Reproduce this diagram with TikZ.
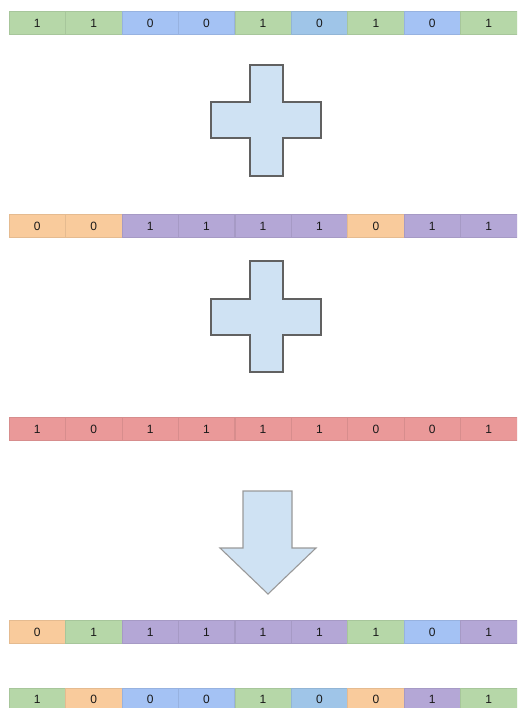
\documentclass[tikz,border=0pt]{standalone}
\usepackage{fontspec}
\setmainfont{Liberation Sans}
\usepackage{tikz}

\definecolor{cgreen}{HTML}{B6D7A8}
\definecolor{cblue}{HTML}{A4C2F4}
\definecolor{clight}{HTML}{9FC5E8}
\definecolor{corange}{HTML}{F9CB9C}
\definecolor{cpurple}{HTML}{B4A7D6}
\definecolor{cred}{HTML}{EA9999}
\definecolor{shapefill}{HTML}{CFE2F3}

\begin{document}
\begin{tikzpicture}[x=1pt,y=-1pt,
  cell/.style={fill=#1, draw=#1!92!black, line width=0.5pt,
    minimum width=56.44pt, minimum height=23pt, inner sep=0pt,
    font=\fontsize{12}{14}\selectfont, text=black!90},
  plusbox/.style={fill=shapefill, draw=black!62, line width=1.4pt},
  arrowbox/.style={fill=shapefill, draw=black!40, line width=1.1pt}]
\useasboundingbox (0,0) rectangle (517,708);
\clip (0,0) rectangle (517,708);

% first number
\node[cell=cgreen]  (a1) at (37.2,23) {1};
\node[cell=cgreen]  (a2) at (93.7,23) {1};
\node[cell=cblue]   (a3) at (150.1,23) {0};
\node[cell=cblue]   (a4) at (206.5,23) {0};
\node[cell=cgreen]  (a5) at (263.0,23) {1};
\node[cell=clight]  (a6) at (319.4,23) {0};
\node[cell=cgreen]  (a7) at (375.9,23) {1};
\node[cell=cblue]   (a8) at (432.3,23) {0};
\node[cell=cgreen]  (a9) at (488.8,23) {1};

\draw[plusbox] (250,65) -- (283,65) -- (283,102) -- (321,102) -- (321,138)
  -- (283,138) -- (283,176) -- (250,176) -- (250,138) -- (211,138)
  -- (211,102) -- (250,102) -- cycle;

% second number
\node[cell=corange] (b1) at (37.2,226) {0};
\node[cell=corange] (b2) at (93.7,226) {0};
\node[cell=cpurple] (b3) at (150.1,226) {1};
\node[cell=cpurple] (b4) at (206.5,226) {1};
\node[cell=cpurple] (b5) at (263.0,226) {1};
\node[cell=cpurple] (b6) at (319.4,226) {1};
\node[cell=corange] (b7) at (375.9,226) {0};
\node[cell=cpurple] (b8) at (432.3,226) {1};
\node[cell=cpurple] (b9) at (488.8,226) {1};

\draw[plusbox] (250,261) -- (283,261) -- (283,299) -- (321,299) -- (321,335)
  -- (283,335) -- (283,372) -- (250,372) -- (250,335) -- (211,335)
  -- (211,299) -- (250,299) -- cycle;

% third number
\node[cell=cred] (c1) at (37.2,429) {1};
\node[cell=cred] (c2) at (93.7,429) {0};
\node[cell=cred] (c3) at (150.1,429) {1};
\node[cell=cred] (c4) at (206.5,429) {1};
\node[cell=cred] (c5) at (263.0,429) {1};
\node[cell=cred] (c6) at (319.4,429) {1};
\node[cell=cred] (c7) at (375.9,429) {0};
\node[cell=cred] (c8) at (432.3,429) {0};
\node[cell=cred] (c9) at (488.8,429) {1};

\draw[arrowbox] (243,491) -- (292,491) -- (292,548) -- (316,548) -- (268,594)
  -- (220,548) -- (243,548) -- cycle;

% results
\node[cell=corange] (d1) at (37.2,632) {0};
\node[cell=cgreen]  (d2) at (93.7,632) {1};
\node[cell=cpurple] (d3) at (150.1,632) {1};
\node[cell=cpurple] (d4) at (206.5,632) {1};
\node[cell=cpurple] (d5) at (263.0,632) {1};
\node[cell=cpurple] (d6) at (319.4,632) {1};
\node[cell=cgreen]  (d7) at (375.9,632) {1};
\node[cell=cblue]   (d8) at (432.3,632) {0};
\node[cell=cpurple] (d9) at (488.8,632) {1};

\node[cell=cgreen]  (e1) at (37.2,699.5) {1};
\node[cell=corange] (e2) at (93.7,699.5) {0};
\node[cell=cblue]   (e3) at (150.1,699.5) {0};
\node[cell=cblue]   (e4) at (206.5,699.5) {0};
\node[cell=cgreen]  (e5) at (263.0,699.5) {1};
\node[cell=clight]  (e6) at (319.4,699.5) {0};
\node[cell=corange] (e7) at (375.9,699.5) {0};
\node[cell=cpurple] (e8) at (432.3,699.5) {1};
\node[cell=cgreen]  (e9) at (488.8,699.5) {1};
\end{tikzpicture}
\end{document}
